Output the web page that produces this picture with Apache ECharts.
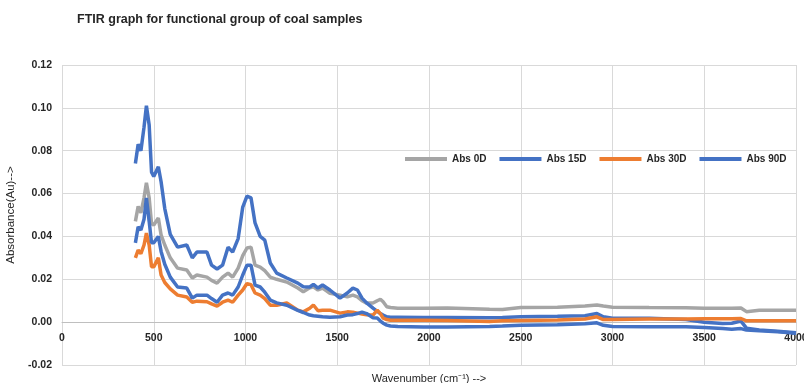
<!DOCTYPE html>
<html>
<head>
<meta charset="utf-8">
<title>FTIR graph</title>
<script src="https://cdn.jsdelivr.net/npm/echarts@6/dist/echarts.min.js"></script>
<style>
  html, body { margin: 0; padding: 0; background: #fff; }
  #chart { width: 804px; height: 383px; }
</style>
</head>
<body>
<div id="chart"></div>
<script>
// wavenumbers (cm-1)
var wavenumbers = [400, 415, 430, 447, 460, 475, 488, 500, 525, 540, 560, 590, 630, 680, 710, 735, 790, 815, 845, 875,
    905, 930, 960, 985, 1008, 1030, 1052, 1080, 1105, 1135, 1170, 1225, 1285, 1315, 1350, 1370, 1395, 1420, 1460, 1515,
    1555, 1585, 1610, 1635, 1660, 1695, 1718, 1735, 1750, 1770, 1790, 1830, 1970, 2100, 2330, 2400, 2500, 2700, 2850, 2915,
    2950, 3000, 3200, 3400, 3500, 3600, 3650, 3700, 3710, 3730, 3800, 3900, 4000];

var abs0D = [0.047, 0.054, 0.051, 0.058, 0.065, 0.058, 0.046, 0.0453, 0.0486, 0.0407, 0.036, 0.030, 0.0252, 0.0243, 0.0206, 0.022, 0.021, 0.0195, 0.0182, 0.021,
    0.0229, 0.021, 0.0252, 0.031, 0.0346, 0.035, 0.0266, 0.0257, 0.024, 0.021, 0.020, 0.0187, 0.0159, 0.0142, 0.016, 0.0165, 0.015, 0.0159, 0.0135, 0.0126,
    0.0118, 0.0126, 0.0118, 0.010, 0.0089, 0.0089, 0.0100, 0.0107, 0.0095, 0.0072, 0.0068, 0.0065, 0.0065, 0.0066, 0.006, 0.0059, 0.0068, 0.007, 0.0075, 0.008,
    0.0075, 0.007, 0.0068, 0.0067, 0.0065, 0.0065, 0.0065, 0.0066, 0.0062, 0.0049, 0.0056, 0.0056, 0.0055];

var abs15D = [0.074, 0.083, 0.080, 0.091, 0.101, 0.092, 0.070, 0.068, 0.0725, 0.0655, 0.053, 0.041, 0.035, 0.036, 0.030, 0.0327, 0.0327, 0.0266, 0.0248, 0.0266,
    0.035, 0.0327, 0.039, 0.0537, 0.0588, 0.058, 0.0463, 0.040, 0.0383, 0.0276, 0.0229, 0.0206, 0.0182, 0.0165, 0.0164, 0.0176, 0.0159, 0.0173, 0.015, 0.0112,
    0.0136, 0.0159, 0.015, 0.0112, 0.009, 0.0065, 0.005, 0.004, 0.0033, 0.0025, 0.0023, 0.0023, 0.0022, 0.0022, 0.002, 0.0022, 0.0025, 0.0027, 0.003, 0.004,
    0.0025, 0.0018, 0.0018, 0.0012, 0.0, -0.0006, -0.0005, 0.0005, 0.0009, -0.0028, -0.0037, -0.0043, -0.005];

var abs30D = [0.030, 0.0336, 0.032, 0.036, 0.0415, 0.036, 0.0258, 0.0258, 0.030, 0.022, 0.0185, 0.0155, 0.0126, 0.0117, 0.0093, 0.0098, 0.0095, 0.0085, 0.0075, 0.0093,
    0.0103, 0.0093, 0.0126, 0.015, 0.018, 0.0175, 0.0136, 0.0126, 0.011, 0.0079, 0.0079, 0.0089, 0.0056, 0.0048, 0.0065, 0.008, 0.0053, 0.0055, 0.0056, 0.0042,
    0.0048, 0.0046, 0.0042, 0.0038, 0.0035, 0.0033, 0.0056, 0.004, 0.0019, 0.0012, 0.0009, 0.0009, 0.0009, 0.0008, 0.0003, 0.0006, 0.0008, 0.001, 0.0015, 0.0025,
    0.0012, 0.0012, 0.0015, 0.0015, 0.0016, 0.0016, 0.0016, 0.0017, 0.0015, 0.0006, 0.0006, 0.0006, 0.0006];

var abs90D = [0.037, 0.0445, 0.043, 0.048, 0.058, 0.047, 0.037, 0.037, 0.040, 0.033, 0.027, 0.021, 0.0164, 0.0159, 0.0112, 0.0126, 0.0126, 0.011, 0.0093, 0.0126,
    0.0136, 0.0126, 0.0164, 0.022, 0.0266, 0.0266, 0.0173, 0.0164, 0.014, 0.0103, 0.009, 0.0079, 0.0055, 0.0045, 0.0033, 0.003, 0.0028, 0.0025, 0.0023, 0.0025,
    0.0033, 0.0035, 0.004, 0.0047, 0.004, 0.002, 0.0019, 0.0005, -0.0005, -0.0014, -0.0018, -0.002, -0.0023, -0.0023, -0.002, -0.0018, -0.0014, -0.0012, -0.0008, -0.0003,
    -0.0015, -0.002, -0.0022, -0.0022, -0.0025, -0.003, -0.0033, -0.003, -0.0022, -0.0037, -0.004, -0.0045, -0.0052];

var seriesNames = ['Abs 0D', 'Abs 15D', 'Abs 30D', 'Abs 90D'];
var seriesColors = ['#A5A5A5', '#4472C4', '#ED7D31', '#4472C4'];
var seriesValues = [abs0D, abs15D, abs30D, abs90D];

function pairs(vals) {
    return wavenumbers.map(function (w, i) { return [w, vals[i]]; });
}

var myChart = echarts.init(document.getElementById('chart'));

var option = {
    animation: false,
    backgroundColor: '#fff',
    title: {
        text: 'FTIR graph for functional group of coal samples',
        left: 72,
        top: 8,
        textStyle: {
            fontFamily: 'Liberation Sans',
            fontSize: 12.5,
            fontWeight: 'bold',
            color: '#262626'
        }
    },
    legend: {
        data: seriesNames,
        left: 400,
        top: 149,
        icon: 'rect',
        itemWidth: 42,
        itemHeight: 4,
        itemGap: 13,
        textStyle: {
            fontFamily: 'Liberation Sans',
            fontSize: 10,
            fontWeight: 'bold',
            color: '#262626'
        }
    },
    grid: {
        left: 62,
        right: 8,
        top: 65,
        bottom: 18,
        outerBoundsMode: 'none',
        containLabel: false
    },
    xAxis: {
        type: 'value',
        min: 0,
        max: 4000,
        interval: 500,
        position: 'bottom',
        // the axis sits on the 0.00 line: 300px plot height, 0.02 of 0.14 below zero
        offset: -43,
        name: 'Wavenumber (cm\u207B\u00B9) -->',
        nameLocation: 'middle',
        nameGap: 51,
        nameTextStyle: {
            fontFamily: 'Liberation Sans',
            fontSize: 11,
            color: '#262626'
        },
        axisLine: { show: true, onZero: false, lineStyle: { color: '#BFBFBF', width: 1 } },
        axisTick: { show: false },
        axisLabel: {
            margin: 11,
            fontFamily: 'Liberation Sans',
            fontSize: 10.5,
            fontWeight: 'bold',
            color: '#262626',
            formatter: function (v) { return String(v); }
        },
        splitLine: { show: true, lineStyle: { color: '#D9D9D9', width: 1 } }
    },
    yAxis: {
        type: 'value',
        min: -0.02,
        max: 0.12,
        interval: 0.02,
        name: 'Absorbance(Au)-->',
        nameLocation: 'middle',
        nameGap: 42,
        nameTextStyle: {
            fontFamily: 'Liberation Sans',
            fontSize: 11.5,
            color: '#262626'
        },
        axisLine: { show: false },
        axisTick: { show: false },
        axisLabel: {
            margin: 10,
            fontFamily: 'Liberation Sans',
            fontSize: 10.5,
            fontWeight: 'bold',
            color: '#262626',
            formatter: function (v) { return v.toFixed(2); }
        },
        splitLine: { show: true, lineStyle: { color: '#D9D9D9', width: 1 } }
    },
    series: seriesNames.map(function (name, k) {
        return {
            name: name,
            type: 'line',
            showSymbol: false,
            symbol: 'none',
            smooth: false,
            color: seriesColors[k],
            lineStyle: { width: 3.5, color: seriesColors[k] },
            data: pairs(seriesValues[k])
        };
    })
};

myChart.setOption(option);
</script>
</body>
</html>
